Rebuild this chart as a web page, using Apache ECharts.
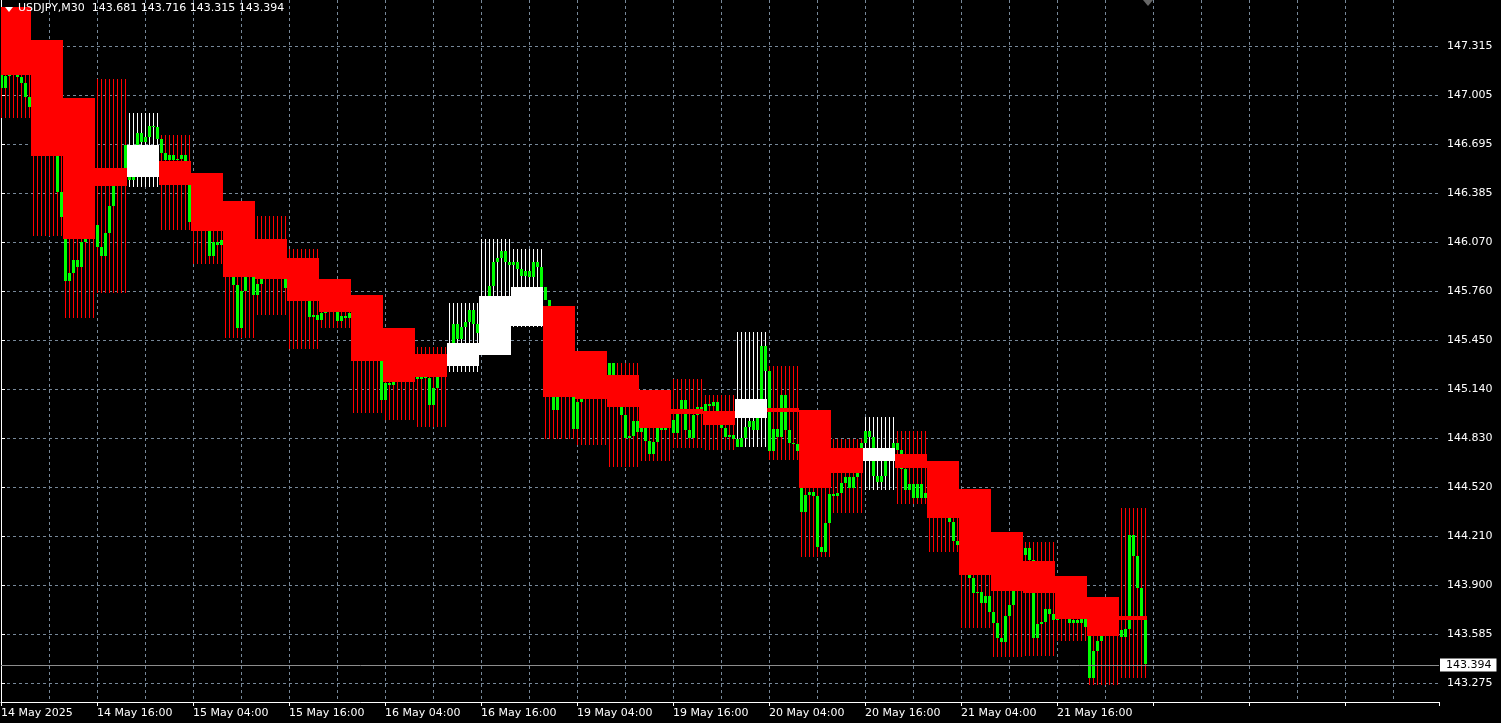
<!DOCTYPE html>
<html><head><meta charset="utf-8">
<script src="https://cdn.jsdelivr.net/npm/echarts@6/dist/echarts.min.js"></script>
<style>html,body{margin:0;padding:0;background:#000;}#c{width:1501px;height:723px;}</style>
</head><body><div id="c"></div>
<script>
// ---------- data ----------
const SYMBOL = 'USDJPY,M30';
const HEADER_OHLC = [143.681, 143.716, 143.315, 143.394];
const X_LABELS = ['14 May 2025','14 May 16:00','15 May 04:00','15 May 16:00','16 May 04:00','16 May 16:00',
  '19 May 04:00','19 May 16:00','20 May 04:00','20 May 16:00','21 May 04:00','21 May 16:00'];
const Y_LABELS = ['143.275','143.585','143.900','144.210','144.520','144.830','145.140','145.450',
  '145.760','146.070','146.385','146.695','147.005','147.315'];

// M30 bars (bodies drawn green); open of each bar = previous close
const M30_FIRST_OPEN = 147.165;
const M30_CLOSE = [
  147.050,147.127,147.165,147.133,147.121,147.082,146.994,146.930,146.879,146.816,
  146.848,146.752,146.721,146.657,146.391,146.233,145.827,145.877,145.960,145.916,
  146.073,146.093,146.150,146.181,146.042,145.985,146.131,146.302,146.429,146.479,
  146.473,146.689,146.467,146.657,146.765,146.708,146.740,146.810,146.804,146.727,
  146.638,146.594,146.625,146.594,146.600,146.625,146.588,146.200,146.245,146.181,
  146.213,146.162,145.985,146.073,146.054,146.086,145.960,145.896,145.801,145.528,
  145.763,145.852,145.896,145.737,145.808,145.839,145.896,145.928,145.909,145.883,
  145.864,145.782,145.769,145.801,145.756,145.769,145.718,145.598,145.610,145.579,
  145.623,145.655,145.674,145.642,145.573,145.604,145.591,145.623,145.591,145.547,
  145.516,145.465,145.420,145.389,145.325,145.072,145.179,145.166,145.198,145.211,
  145.249,145.230,145.249,145.217,145.205,145.217,145.211,145.040,145.147,145.217,
  145.293,145.338,145.420,145.554,145.459,145.535,145.566,145.642,145.554,145.497,
  145.579,145.725,145.795,145.947,145.972,146.017,145.947,145.928,145.947,145.903,
  145.858,145.890,145.852,145.947,145.916,145.789,145.706,145.516,145.008,145.103,
  145.198,145.135,145.091,144.888,145.059,145.078,145.135,145.103,145.166,145.135,
  145.103,145.084,145.306,145.198,145.072,144.976,144.830,144.843,144.939,144.868,
  144.901,144.812,144.729,144.805,144.894,144.881,144.901,144.945,144.862,144.983,
  145.072,144.881,144.830,144.976,145.028,144.995,145.047,145.034,145.059,144.995,
  144.894,144.837,144.849,144.824,144.774,144.830,144.901,144.939,144.881,144.957,
  145.414,145.256,144.748,144.888,144.837,145.103,144.881,144.799,144.793,144.748,
  144.361,144.469,144.488,144.463,144.140,144.107,144.291,144.476,144.463,144.482,
  144.545,144.584,144.513,144.584,144.628,144.799,144.875,144.837,144.590,144.551,
  144.590,144.685,144.754,144.799,144.754,144.634,144.501,144.539,144.450,144.539,
  144.450,144.482,144.437,144.405,144.374,144.386,144.342,144.297,144.178,144.152,
  144.088,144.025,143.942,143.847,143.853,143.784,143.828,143.727,143.657,143.562,
  143.536,143.702,143.771,143.866,143.993,144.088,144.133,144.057,143.562,143.651,
  143.663,143.746,143.715,143.676,143.740,143.771,143.708,143.657,143.676,143.657,
  143.683,143.632,143.308,143.480,143.543,143.613,143.644,143.676,143.644,143.613,
  143.569,143.619,144.215,144.082,143.879,143.681,143.394
];

// higher-timeframe blocks (8 M30 bars each)
const BARS_PER_BLOCK = 8;
const HTF_OPEN  = [147.565,147.355,146.987,146.543,146.486,146.588,146.511,146.334,146.093,145.972,145.839,145.737,
  145.528,145.363,145.287,145.357,145.541,145.668,145.382,145.230,145.135,145.015,145.002,144.958,
  145.021,145.008,144.767,144.685,144.729,144.685,144.507,144.234,144.050,143.955,143.822,143.702];
const HTF_CLOSE = [147.133,146.619,146.093,146.429,146.689,146.435,146.144,145.852,145.839,145.700,145.629,145.319,
  145.185,145.217,145.433,145.731,145.788,145.091,145.078,145.027,144.894,144.983,144.913,145.078,
  144.996,144.514,144.609,144.767,144.640,144.323,143.962,143.860,143.848,143.683,143.575,143.676];
const HTF_HIGH  = [147.565,147.355,146.987,147.108,146.892,146.752,146.511,146.334,146.239,146.029,145.839,145.737,
  145.528,145.408,145.687,146.093,146.029,145.668,145.382,145.306,145.135,145.205,145.103,145.503,
  145.287,145.008,144.824,144.964,144.875,144.685,144.507,144.234,144.171,143.955,143.822,144.387];
const HTF_LOW   = [146.860,146.112,145.591,145.750,146.423,146.150,145.935,145.465,145.610,145.395,145.528,144.989,
  144.945,144.901,145.249,145.357,145.535,144.824,144.786,144.647,144.685,144.767,144.754,144.774,
  144.691,144.076,144.355,144.501,144.412,144.108,143.626,143.442,143.448,143.543,143.264,143.308];

// ---------- axis setup ----------
const Y_BASE = 143.275, Y_STEP = 143.275 / 461;
const Y_TICKS = Y_LABELS.map((_, k) => Y_BASE + k * Y_STEP);
const Y_MIN = 143.1561, Y_MAX = 147.6087;
const X_MIN = 0, X_MAX = 359.5, X_LABEL_EVERY = 24;

const FONT = 'DejaVu Sans';
const RED = '#ff0000', WHITE = '#ffffff', GREEN = '#00ff00', GRID = '#778899';

const N = M30_CLOSE.length;
const greenData = M30_CLOSE.map((c, i) => [i, i === 0 ? M30_FIRST_OPEN : M30_CLOSE[i - 1], c]);
const wickData = M30_CLOSE.map((_, i) => {
  const b = Math.floor(i / BARS_PER_BLOCK);
  return [i, HTF_HIGH[b], HTF_LOW[b], HTF_CLOSE[b] > HTF_OPEN[b] ? 1 : 0];
});
const bodyData = HTF_OPEN.map((o, b) => [b * BARS_PER_BLOCK - 0.5,
  Math.min(b * BARS_PER_BLOCK + BARS_PER_BLOCK - 0.5, N - 0.5), o, HTF_CLOSE[b]]);

function vRect(x, w, p1, p2, fill) {
  let yT = Math.round(Math.min(p1, p2)), yB = Math.round(Math.max(p1, p2));
  if (yB - yT < 1) yB = yT + 1;
  return { type: 'rect', shape: { x: x, y: yT, width: w, height: yB - yT }, style: { fill: fill } };
}

const chart = echarts.init(document.getElementById('c'), null, { renderer: 'canvas' });
chart.setOption({
  backgroundColor: '#000000',
  animation: false,
  title: {
    text: SYMBOL + '  ' + HEADER_OHLC.map(v => v.toFixed(3)).join(' '),
    left: 18, top: 2, padding: 0,
    textStyle: { color: '#ffffff', fontFamily: FONT, fontSize: 11, fontWeight: 'normal', lineHeight: 13 }
  },
  graphic: [{ type: 'polygon', shape: { points: [[5, 7], [13, 7], [9, 12]] }, style: { fill: '#ffffff' }, z: 100 }],
  grid: { left: 1, right: 62, top: 0, bottom: 21, containLabel: false, outerBoundsMode: 'none' },
  xAxis: {
    type: 'value', min: X_MIN, max: X_MAX, interval: X_LABEL_EVERY,
    axisLine: { show: true, onZero: false, lineStyle: { color: '#ffffff', width: 1 } },
    axisTick: { show: true, length: 4, lineStyle: { color: '#ffffff' } },
    axisLabel: {
      color: '#ffffff', fontFamily: FONT, fontSize: 11, align: 'left', margin: 6,
      formatter: v => (v % X_LABEL_EVERY === 0 && X_LABELS[v / X_LABEL_EVERY]) || ''
    },
    splitLine: { show: true, showMinLine: false, showMaxLine: false, lineStyle: { color: GRID, type: [3, 3], width: 1 } },
    minorTick: { show: false, splitNumber: 2 },
    minorSplitLine: { show: true, lineStyle: { color: GRID, type: [3, 3], width: 1 } }
  },
  yAxis: {
    type: 'value', position: 'right', min: Y_MIN, max: Y_MAX,
    axisLine: { show: true, lineStyle: { color: '#ffffff', width: 1 } },
    axisTick: { show: true, length: 4, lineStyle: { color: '#ffffff' }, customValues: Y_TICKS },
    axisLabel: {
      customValues: Y_TICKS, color: '#ffffff', fontFamily: FONT, fontSize: 11, margin: 8,
      formatter: v => { const k = Y_TICKS.findIndex(t => Math.abs(t - v) < 1e-6); return k >= 0 ? Y_LABELS[k] : ''; }
    },
    splitLine: { show: true, lineStyle: { color: GRID, type: [3, 3], width: 1 } }
  },
  series: [
    {
      name: 'wicks', type: 'custom', z: 2, clip: true, data: wickData,
      encode: { x: 0, y: [1, 2] },
      renderItem: (params, api) => {
        const a = api.coord([api.value(0), api.value(1)]);
        const b = api.coord([api.value(0), api.value(2)]);
        return vRect(Math.round(a[0]), 1, a[1], b[1], api.value(3) ? WHITE : RED);
      }
    },
    {
      name: 'M30', type: 'custom', z: 3, clip: true, data: greenData,
      encode: { x: 0, y: [1, 2] },
      renderItem: (params, api) => {
        const a = api.coord([api.value(0), api.value(1)]);
        const b = api.coord([api.value(0), api.value(2)]);
        return vRect(Math.round(a[0]) - 1, 3, a[1], b[1], GREEN);
      }
    },
    {
      name: 'bodies', type: 'custom', z: 4, clip: true, data: bodyData,
      encode: { x: [0, 1], y: [2, 3] },
      renderItem: (params, api) => {
        const a = api.coord([api.value(0), api.value(2)]);
        const c = api.coord([api.value(1), api.value(3)]);
        const x0 = Math.round(a[0]), x1 = Math.round(c[0]);
        return vRect(x0, x1 - x0, a[1], c[1], api.value(3) > api.value(2) ? WHITE : RED);
      },
      markLine: {
        silent: true, symbol: ['none', 'none'], animation: false,
        lineStyle: { color: '#8c8c8c', type: 'solid', width: 1 },
        label: {
          show: true, position: 'end', distance: 1, formatter: HEADER_OHLC[3].toFixed(3),
          backgroundColor: '#ffffff', color: '#000000', fontFamily: FONT, fontSize: 11,
          padding: [1, 5, 1, 6]
        },
        data: [{ yAxis: HEADER_OHLC[3] }]
      }
    },
    {
      name: 'shift', type: 'scatter', z: 5, clip: false, silent: true,
      data: [[N - 0.25, Y_MAX]], symbol: 'triangle', symbolRotate: 180,
      symbolSize: [10, 6], symbolOffset: [0, 3], itemStyle: { color: '#808080' }
    }
  ]
});
</script></body></html>
